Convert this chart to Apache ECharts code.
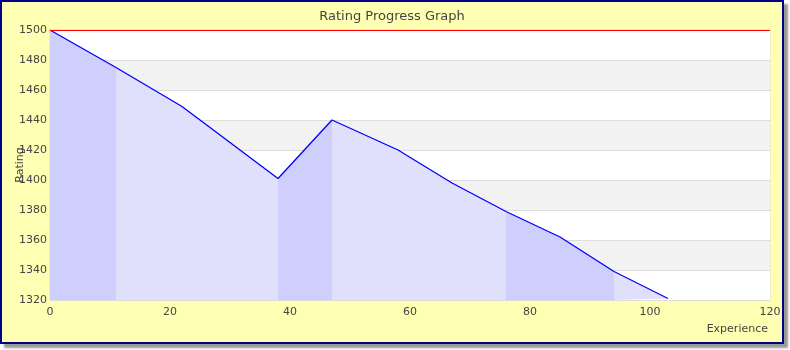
<!DOCTYPE html>
<html>
<head>
<meta charset="utf-8">
<script src="https://cdn.jsdelivr.net/npm/echarts@6/dist/echarts.min.js"></script>
<style>
  html, body { margin: 0; padding: 0; background: #fff; }
  #main {
    position: absolute;
    left: 0;
    top: 0;
    width: 780px;
    height: 340px;
    border: 2px solid #000088;
    background: #ffffb3;
    box-shadow: 4px 4px 2px #999;
  }
</style>
</head>
<body>
<div id="main"></div>
<script>
  // experience (x) and rating (y) of each point
  const experience = [0, 11, 22, 38, 47, 58, 67, 76, 85, 94, 103]
  const rating = [1500, 1475, 1449, 1401, 1440, 1420, 1398, 1379, 1362, 1339, 1321]
  // index ranges that get the darker fill
  const darkRanges = [[0, 1], [3, 4], [7, 9]]

  const points = experience.map((x, i) => [x, rating[i]])
  const darkPoints = points.map((p, i) =>
    darkRanges.some(([a, b]) => i >= a && i <= b) ? p : [p[0], '-']
  )

  const font = 'DejaVu Sans'
  const chart = echarts.init(document.getElementById('main'))

  chart.setOption({
    animation: false,
    title: {
      text: 'Rating Progress Graph',
      left: 'center',
      top: 3,
      textStyle: { fontFamily: font, fontSize: 13, fontWeight: 'normal', color: '#444' },
    },
    grid: {
      left: 48,
      right: 12,
      top: 28,
      bottom: 42,
      outerBoundsMode: 'none',
      containLabel: false,
      show: true,
      borderColor: '#ddd',
      borderWidth: 1,
      backgroundColor: 'transparent',
    },
    xAxis: {
      type: 'value',
      min: 0,
      max: 120,
      interval: 20,
      name: 'Experience',
      nameLocation: 'end',
      nameGap: 0,
      nameMoveOverlap: false,
      nameTextStyle: {
        fontFamily: font,
        fontSize: 11,
        color: '#444',
        align: 'right',
        verticalAlign: 'top',
        padding: [24, 2, 0, 0],
      },
      axisLine: { show: true, lineStyle: { color: '#ddd' } },
      axisTick: { show: false },
      axisLabel: { fontFamily: font, fontSize: 11, color: '#444', margin: 7 },
      splitLine: { show: false },
    },
    yAxis: {
      type: 'value',
      min: 1320,
      max: 1500,
      interval: 20,
      name: 'Rating',
      nameLocation: 'middle',
      nameGap: 24,
      nameMoveOverlap: false,
      nameTextStyle: { fontFamily: font, fontSize: 11, color: '#444' },
      axisLine: { show: false },
      axisTick: { show: false },
      axisLabel: { fontFamily: font, fontSize: 11, color: '#444', margin: 3, formatter: (v) => String(v) },
      splitLine: { show: true, lineStyle: { color: '#ddd' } },
      splitArea: { show: true, areaStyle: { color: ['#ffffff', '#f2f2f2'] } },
    },
    series: [
      {
        type: 'line',
        data: points,
        symbol: 'none',
        lineStyle: { width: 0 },
        areaStyle: { color: '#e0e0fc', opacity: 1 },
        silent: true,
      },
      {
        type: 'line',
        data: darkPoints,
        symbol: 'none',
        connectNulls: false,
        lineStyle: { width: 0 },
        areaStyle: { color: '#cfcffd', opacity: 1 },
        silent: true,
      },
      {
        type: 'line',
        data: points,
        symbol: 'none',
        lineStyle: { color: '#0000ff', width: 1.3 },
        markLine: {
          symbol: 'none',
          silent: true,
          label: { show: false },
          lineStyle: { color: '#ff0000', type: 'solid', width: 1 },
          data: [{ yAxis: 1500 }],
        },
      },
    ],
  })
</script>
</body>
</html>
